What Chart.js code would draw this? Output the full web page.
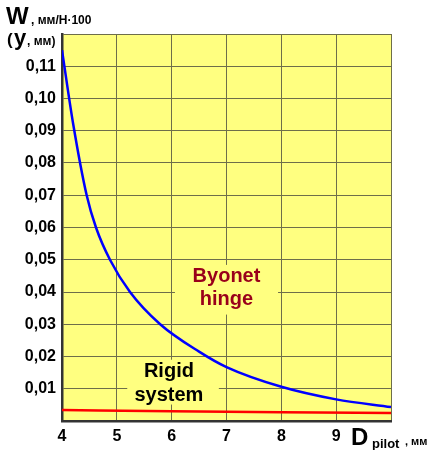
<!DOCTYPE html>
<html>
<head>
<meta charset="utf-8">
<script src="https://cdn.jsdelivr.net/npm/chart.js@4.4.1/dist/chart.umd.min.js"></script>
<style>
    html, body { margin: 0; padding: 0; background: #fff; }
    #wrap { width: 440px; height: 450px; position: relative; }
</style>
</head>
<body>
<div id="wrap"><canvas id="chart"></canvas></div>
<script>
// Data
const xTicks = [4, 5, 6, 7, 8, 9, 10];
const yTicks = [0.01, 0.02, 0.03, 0.04, 0.05, 0.06, 0.07, 0.08, 0.09, 0.10, 0.11];

const byonetX = [4, 4.2, 4.45, 4.62, 4.875, 5.24, 5.79, 6.5, 7, 8, 9, 10];
const byonetY = [0.115, 0.0925, 0.070, 0.060, 0.050, 0.040, 0.030, 0.0215, 0.0167, 0.0106, 0.0067, 0.0043];

const rigidX = [4, 6, 8, 10];
const rigidY = [0.0034, 0.0030, 0.0027, 0.0025];

const FONT = '"Liberation Sans", Arial, sans-serif';

const toPoints = (xs, ys) => xs.map((x, i) => ({ x, y: ys[i] }));

// Yellow plot background, label boxes and texts
const decor = {
    id: 'decor',
    beforeDraw(chart) {
        const { ctx, chartArea: a } = chart;
        ctx.save();
        ctx.fillStyle = '#FFFF80';
        ctx.fillRect(a.left, a.top, a.right - a.left, a.bottom - a.top);
        ctx.restore();
    },
    beforeDatasetsDraw(chart) {
        const { ctx, scales: { x, y } } = chart;
        ctx.save();
        ctx.fillStyle = '#FFFF80';
        const box = (x0, x1, y0, y1) => {
            const px0 = x.getPixelForValue(x0), px1 = x.getPixelForValue(x1);
            const py0 = y.getPixelForValue(y0), py1 = y.getPixelForValue(y1);
            ctx.fillRect(px0, py0, px1 - px0, py1 - py0);
        };
        box(6.06, 7.94, 0.0484, 0.033);
        box(5.19, 6.86, 0.019, 0.0051);
        ctx.restore();
    },
    afterDraw(chart) {
        const { ctx, scales: { x, y } } = chart;
        ctx.save();
        ctx.textAlign = 'center';
        ctx.textBaseline = 'middle';
        ctx.font = 'bold 20px ' + FONT;
        ctx.fillStyle = '#99001A';
        ctx.fillText('Byonet', x.getPixelForValue(7.0), y.getPixelForValue(0.0447));
        ctx.fillText('hinge', x.getPixelForValue(7.0), y.getPixelForValue(0.0376));
        ctx.fillStyle = '#000';
        ctx.fillText('Rigid', x.getPixelForValue(5.95), y.getPixelForValue(0.0153));
        ctx.fillText('system', x.getPixelForValue(5.95), y.getPixelForValue(0.0079));

        // y axis title
        ctx.textAlign = 'left';
        ctx.textBaseline = 'alphabetic';
        ctx.fillStyle = '#000';
        ctx.font = 'bold 24px ' + FONT;
        ctx.fillText('W', 6, 24);
        ctx.font = 'bold 12px ' + FONT;
        ctx.fillText(', мм/Н·100', 31, 24);
        ctx.font = 'bold 17px ' + FONT;
        ctx.fillText('(', 7, 45);
        ctx.font = 'bold 22px ' + FONT;
        ctx.fillText('у', 14, 45);
        ctx.font = 'bold 12px ' + FONT;
        ctx.fillText(', мм)', 27, 45);

        // x axis title
        ctx.font = 'bold 24px ' + FONT;
        ctx.fillText('D', 351, 445);
        ctx.font = 'bold 13px ' + FONT;
        ctx.fillText('pilot', 372, 448);
        ctx.font = 'bold 11px ' + FONT;
        ctx.fillText(', мм', 405, 445);
        ctx.restore();
    }
};

new Chart(document.getElementById('chart'), {
    type: 'scatter',
    data: {
        datasets: [
            {
                label: 'Byonet hinge',
                data: toPoints(byonetX, byonetY),
                showLine: true,
                borderColor: '#0000FF',
                borderWidth: 2.5,
                pointRadius: 0,
                cubicInterpolationMode: 'monotone',
                fill: false,
            },
            {
                label: 'Rigid system',
                data: toPoints(rigidX, rigidY),
                showLine: true,
                borderColor: '#FF0000',
                borderWidth: 2.5,
                pointRadius: 0,
                cubicInterpolationMode: 'monotone',
                fill: false,
            }
        ]
    },
    options: {
        responsive: true,
        maintainAspectRatio: false,
        animation: false,
        layout: { padding: { top: 34, right: 49, left: 0, bottom: 0 } },
        plugins: { legend: { display: false }, tooltip: { enabled: false } },
        scales: {
            x: {
                type: 'linear',
                min: xTicks[0],
                max: xTicks[xTicks.length - 1],
                afterFit: s => { s.height = 29; },
                afterBuildTicks: s => { s.ticks = xTicks.map(v => ({ value: v })); },
                grid: { color: '#6E6E4A', lineWidth: 1, drawTicks: false },
                border: { color: '#333', width: 2.5 },
                ticks: {
                    padding: 6,
                    color: '#000',
                    font: { family: FONT, size: 16, weight: 'bold' },
                    callback: v => v === 10 ? '' : String(v),
                },
            },
            y: {
                min: 0,
                max: 0.12,
                afterFit: s => { s.width = 62; },
                afterBuildTicks: s => { s.ticks = [0].concat(yTicks, [0.12]).map(v => ({ value: v })); },
                grid: { color: '#6E6E4A', lineWidth: 1, drawTicks: false },
                border: { color: '#333', width: 2.5 },
                ticks: {
                    padding: 6,
                    color: '#000',
                    font: { family: FONT, size: 16, weight: 'bold' },
                    callback: v => (v === 0 || v === 0.12) ? '' : v.toFixed(2).replace('.', ','),
                },
            }
        }
    },
    plugins: [decor]
});
</script>
</body>
</html>
